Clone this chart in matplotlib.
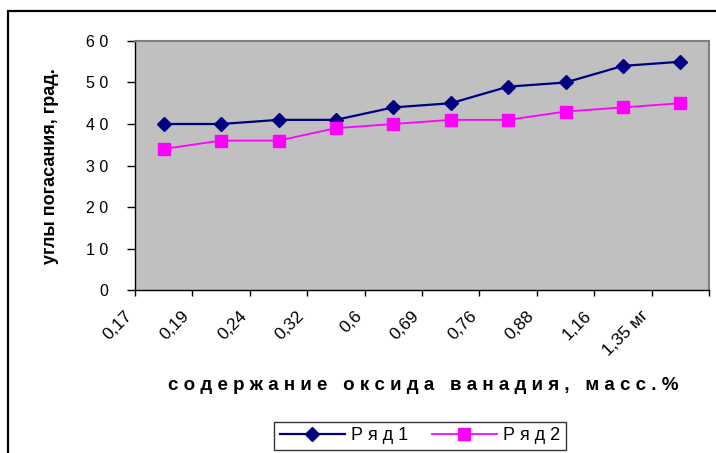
import matplotlib.pyplot as plt
from matplotlib.patches import Rectangle
from matplotlib.lines import Line2D

# ── Datos ──────────────────────────────────────────────────────────────────────
categorias = ["0,17", "0,19", "0,24", "0,32", "0,6", "0,69", "0,76", "0,88", "1,16", "1,35 мг"]
ryad1 = [40, 40, 41, 41, 44, 45, 49, 50, 54, 55]
ryad2 = [34, 36, 36, 39, 40, 41, 41, 43, 44, 45]
y_ticks = [0, 10, 20, 30, 40, 50, 60]
y_tick_labels = ["0", "1 0", "2 0", "3 0", "4 0", "5 0", "6 0"]
nombres = ["Р я д 1", "Р я д 2"]

plt.rcParams["font.family"] = ["Liberation Sans", "DejaVu Sans"]

W, H = 716, 453
fig = plt.figure(figsize=(W / 100, H / 100), dpi=100)
ax = fig.add_axes([135 / W, 1 - 290 / H, 574 / W, 249 / H])
ax.set_facecolor("#C0C0C0")

x = list(range(len(categorias)))
ax.plot(x, ryad1, color="#000080", lw=1.6, marker="D", ms=7, zorder=3)
ax.plot(x, ryad2, color="#FF00FF", lw=1.3, marker="s", ms=8.5, zorder=3)

ax.set_xlim(-0.5, len(categorias) - 0.5)
ax.set_ylim(0, 60)
ax.set_yticks(y_ticks)
ax.set_yticklabels(y_tick_labels, fontsize=11.5)
ax.set_xticks([i - 0.5 for i in range(len(categorias) + 1)])
ax.set_xticklabels(categorias + [""], fontsize=12.5, rotation=45, ha="right", va="top")
ax.tick_params(axis="y", length=6, width=1, pad=13)
ax.tick_params(axis="x", length=4, width=1, pad=9)

for s in ["top", "right"]:
    ax.spines[s].set_color("#808080")
    ax.spines[s].set_linewidth(1.5)
for s in ["left", "bottom"]:
    ax.spines[s].set_color("black")
    ax.spines[s].set_linewidth(1)

# Títulos de ejes
fig.text(51 / W, 1 - 166 / H, "углы погасания, град.", rotation=90,
         ha="center", va="center", fontsize=13, fontweight="bold")
xlab = "   ".join(" ".join(p) for p in ["содержание", "оксида", "ванадия,", "масс.%"])
fig.text(423 / W, 1 - 385 / H, xlab, ha="center", va="center",
         fontsize=13.5, fontweight="bold")

# Leyenda
handles = [
    Line2D([], [], color="#000080", lw=1.6, marker="D", ms=7),
    Line2D([], [], color="#FF00FF", lw=1.3, marker="s", ms=8),
]
leg = fig.legend(handles, nombres, loc="center", bbox_to_anchor=(420 / W, 1 - 436 / H),
                 ncol=2, fontsize=13, frameon=True, fancybox=False,
                 handlelength=3.6, handletextpad=0.35, columnspacing=1.3,
                 borderpad=0.3)
leg.get_frame().set_edgecolor("black")
leg.get_frame().set_linewidth(1)

# Marco exterior
fig.patches.append(Rectangle((8 / W, -0.2), 1.2, 1.2 - 11 / H, transform=fig.transFigure,
                             fill=False, edgecolor="black", lw=1.6))

fig.savefig("out.png", dpi=100)
